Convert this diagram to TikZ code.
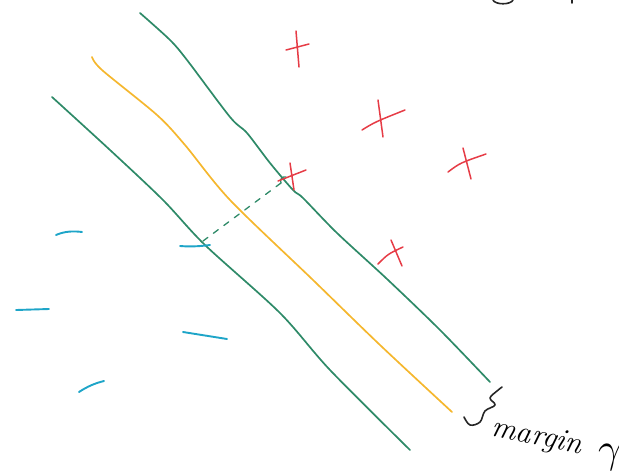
\documentclass[tikz,border=0pt]{standalone}
\begin{document}
\begin{tikzpicture}[x=1pt,y=-1pt,
  pen/.style={line width=1.7pt,line cap=round,line join=round},
  gline/.style={pen,draw={rgb,255:red,46;green,138;blue,104}},
  yline/.style={pen,draw={rgb,255:red,245;green,183;blue,46}},
  rline/.style={pen,line width=1.5pt,draw={rgb,255:red,230;green,60;blue,70}},
  cline/.style={pen,line width=1.9pt,draw={rgb,255:red,30;green,165;blue,200}},
  kline/.style={pen,line width=1.6pt,draw=black!85}]
\useasboundingbox (0,0) rectangle (619,472);
% upper green boundary
\draw[gline] plot[smooth,tension=0.5] coordinates{(140,13) (170,40) (187,60) (230,117) (247,133) (270,163) (293,190) (303,198) (337,233) (387,279) (440,330) (490,382)};
% yellow center line
\draw[yline] plot[smooth,tension=0.5] coordinates{(92,57) (102,70) (157,115) (185,145) (230,200) (313,280) (380,345) (452,412)};
% lower green boundary
\draw[gline] plot[smooth,tension=0.5] coordinates{(52,97) (110,150) (163,200) (205,245) (280,313) (330,370) (410,450)};
% dashed margin segment
\draw[gline,line width=1.3pt,dash pattern=on 6pt off 7pt] (203,241) -- (281,183);
\draw[gline,line width=1.3pt] (281,183) .. controls (279,179) and (283,176) .. (286,177);
% red crosses
\draw[rline] (296,31) -- (299,67) (286,50) -- (309,44);
\draw[rline] (378,100) -- (383,137) (362,130) .. controls (375,122) .. (405,110);
\draw[rline] (463,148) -- (471,179) (448,172) .. controls (460,163) .. (486,154);
\draw[rline] (290,163) -- (294,190) (278,181) -- (306,170);
\draw[rline] (391,240) -- (402,266) (378,264) .. controls (388,254) .. (403,247);
% cyan strokes
\draw[cline] (56,235) .. controls (65,231) and (74,231) .. (82,232);
\draw[cline] (180,246) .. controls (192,247) and (202,246) .. (210,245);
\draw[cline] (16,310) -- (49,309);
\draw[cline] (183,332) -- (227,339);
\draw[cline] (79,392) .. controls (88,386) and (96,383) .. (104,381);
% brace
\draw[kline] plot[smooth,tension=0.6] coordinates{(464,417) (470,425) (480,422) (485,411) (495,405) (490,398) (497,391) (502,387)};
% margin label
\node[rotate=-12,inner sep=0pt] (lbl) at (537,438) {\fontsize{31}{33}\selectfont\itshape margin};
\node[inner sep=0pt,scale=1.7] (gam) at (610,457) {\fontsize{24}{26}\selectfont$\gamma$};
% cut-off fragments at top
\draw[kline] (493,0) .. controls (495,5) and (511,5) .. (513,0);
\draw[kline] (572,0) -- (572,3);
\end{tikzpicture}
\end{document}
